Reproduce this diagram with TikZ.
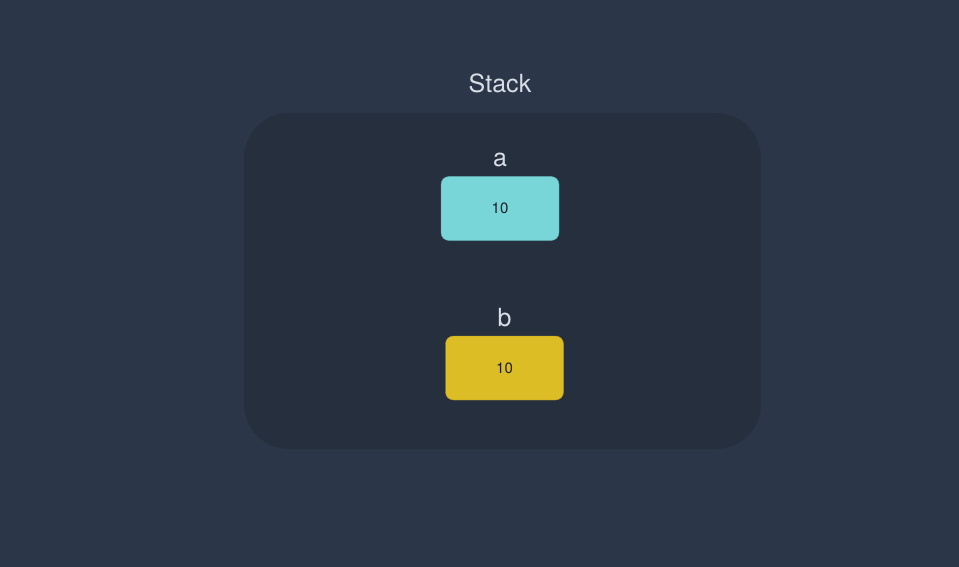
\documentclass[tikz,border=0pt]{standalone}
\usepackage{fontspec}
\setmainfont{TeX Gyre Heros}
\definecolor{bgc}{HTML}{2B3648}
\definecolor{stackc}{HTML}{252F3D}
\definecolor{cyanc}{HTML}{78D5D8}
\definecolor{yelc}{HTML}{DDBD26}
\definecolor{lbl}{HTML}{D9DEE6}
\definecolor{valc}{HTML}{1A1F26}
\begin{document}
\begin{tikzpicture}[x=1pt,y=-1pt,
  varbox/.style={rounded corners=8pt, minimum width=118pt, minimum height=64pt, inner sep=0pt, font=\fontsize{15}{18}\selectfont, text=valc},
  lab/.style={text=lbl, font=\fontsize{25}{30}\selectfont, inner sep=0pt}]
\fill[bgc] (0,0) rectangle (959,567);
\useasboundingbox (0,0) rectangle (959,567);
\fill[stackc, rounded corners=45pt] (244,113) rectangle (761,449);
\node[lab, anchor=base] (title) at (500,93) {Stack};
\node[varbox, fill=cyanc, draw=cyanc!80!black, line width=0.4pt] (a) at (500,208.5) {10};
\node[lab, anchor=base] (la) at (500,167) {a};
\node[varbox, fill=yelc, draw=yelc!80!black, line width=0.4pt] (b) at (504.5,368) {10};
\node[lab, anchor=base] (lb) at (504.5,326) {b};
\end{tikzpicture}
\end{document}
